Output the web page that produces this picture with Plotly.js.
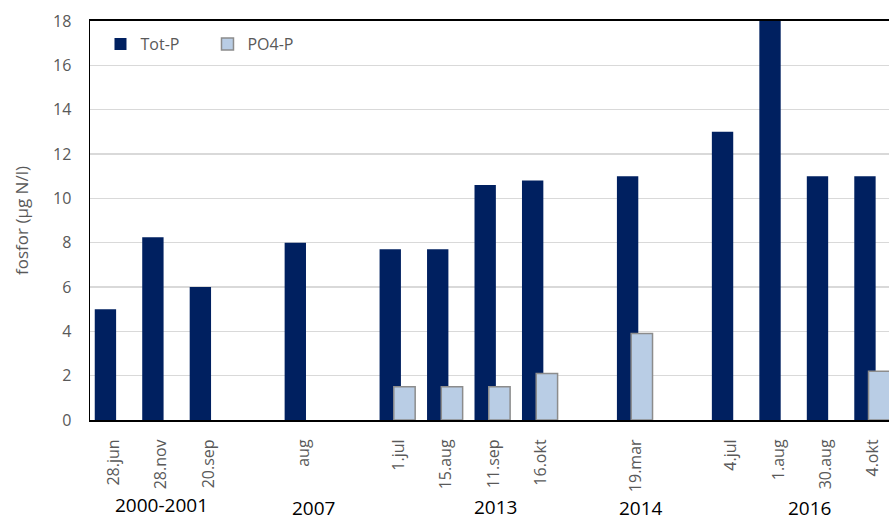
<!DOCTYPE html>
<html>
<head>
<meta charset="utf-8">
<script src="https://cdn.plot.ly/plotly-3.0.1.min.js"></script>
<style>
  html, body { margin: 0; padding: 0; overflow: hidden; background: #fff; }
  #chart { width: 897px; height: 521px; }
</style>
</head>
<body>
<div id="chart"></div>
<script>
// Categories (blank entries are the gaps between year groups)
const categories = ['28.jun', '28.nov', '20.sep', ' ', 'aug', '  ', '1.jul', '15.aug', '11.sep', '16.okt', '   ', '19.mar', '    ', '4.jul', '1.aug', '30.aug', '4.okt'];
const totP =      [5.0, 8.25, 6.0, null, 8.0, null, 7.7, 7.7, 10.6, 10.8, null, 11.0, null, 13.0, 18.0, 11.0, 11.0];
const po4P =      [null, null, null, null, null, null, 1.5, 1.5, 1.5, 2.1, null, 3.9, null, null, null, null, 2.2];
const groupLabels = ['2000-2001', '2007', '2013', '2014', '2016'];
const groupPos =    [1.0, 4.2, 8.05, 11.1, 14.65];
const groupY =      [-0.214, -0.2195, -0.217, -0.2195, -0.2195];
const yTicks = [0, 2, 4, 6, 8, 10, 12, 14, 16, 18];

const FONT = 'Open Sans, sans-serif';
const traces = [
  {
    type: 'bar', name: 'Tot-P', x: categories, y: totP,
    width: 0.45, offset: -0.4,
    marker: { color: '#002060', line: { width: 0 } },
    hoverinfo: 'x+y'
  },
  {
    type: 'bar', name: 'PO4-P', x: categories, y: po4P,
    width: 0.45, offset: -0.1,
    marker: { color: '#b9cde5', line: { color: '#8c8c8c', width: 1.5 } },
    hoverinfo: 'x+y'
  }
];

const annotations = groupLabels.map((t, i) => ({
  text: t, x: groupPos[i], xref: 'x', y: groupY[i], yref: 'paper',
  xanchor: 'center', yanchor: 'middle', showarrow: false,
  font: { family: FONT, size: 19, color: '#000' }
}));

const layout = {
  width: 897, height: 521,
  margin: { l: 90, r: 0, t: 21, b: 101, pad: 0 },
  paper_bgcolor: '#fff', plot_bgcolor: '#fff',
  barmode: 'overlay',
  showlegend: true,
  legend: {
    orientation: 'h', x: 0.013, y: 0.985, xanchor: 'left', yanchor: 'top',
    font: { family: FONT, size: 16, color: '#595959' },
    bgcolor: 'rgba(0,0,0,0)', itemwidth: 30, traceorder: 'normal',
    entrywidth: 62, entrywidthmode: 'pixels'
  },
  xaxis: {
    type: 'category', categoryorder: 'array', categoryarray: categories,
    range: [-0.5, 16.5],
    showline: true, mirror: true, linecolor: '#000', linewidth: 2,
    showgrid: false, ticks: '', tickangle: -90,
    tickfont: { family: FONT, size: 16, color: '#595959' },
    ticklabelstandoff: 11, fixedrange: true
  },
  yaxis: {
    range: [0, 18], tickvals: yTicks, ticktext: yTicks.map(String),
    showline: true, linecolor: '#000', linewidth: 1.5,
    showgrid: true, gridcolor: '#d9d9d9', gridwidth: 1.5,
    zeroline: false, ticks: '',
    tickfont: { family: FONT, size: 16, color: '#595959' },
    ticklabelstandoff: 14,
    title: { text: 'fosfor (µg N/l)', font: { family: FONT, size: 17, color: '#595959' }, standoff: 20 },
    fixedrange: true
  },
  annotations: annotations
};

Plotly.newPlot('chart', traces, layout, { displayModeBar: false, staticPlot: true });
</script>
</body>
</html>
